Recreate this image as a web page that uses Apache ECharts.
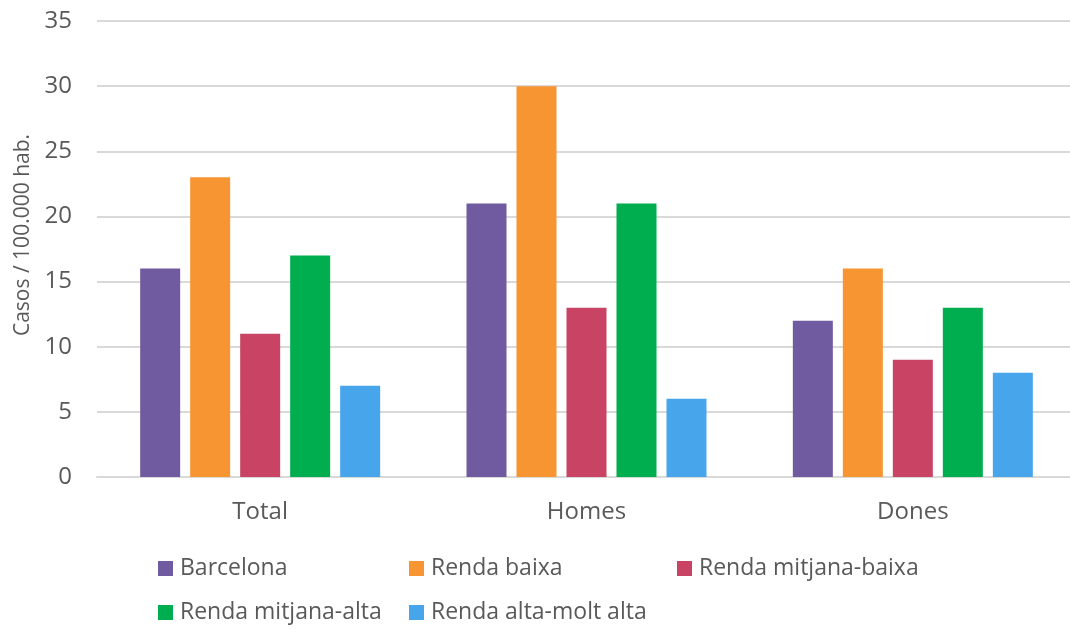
<!DOCTYPE html>
<html>
<head>
<meta charset="utf-8">
<script src="https://cdn.jsdelivr.net/npm/echarts@6/dist/echarts.min.js"></script>
<style>
  html, body { margin: 0; padding: 0; background: #fff; }
  #chart { width: 1070px; height: 629px; }
</style>
</head>
<body>
<div id="chart"></div>
<script>
// categories and values
const categories = ['Total', 'Homes', 'Dones']
const seriesNames = ['Barcelona', 'Renda baixa', 'Renda mitjana-baixa', 'Renda mitjana-alta', 'Renda alta-molt alta']
const barcelona = [16, 21, 12]
const rendaBaixa = [23, 30, 16]
const rendaMitjanaBaixa = [11, 13, 9]
const rendaMitjanaAlta = [17, 21, 13]
const rendaAltaMoltAlta = [7, 6, 8]
const colors = ['#715BA0', '#F69532', '#C84364', '#00AD4F', '#46A5EB']

const values = [barcelona, rendaBaixa, rendaMitjanaBaixa, rendaMitjanaAlta, rendaAltaMoltAlta]
const font = '"Open Sans", sans-serif'
const textColor = '#595959'

// legend items laid out in two rows, each one placed on its own
const legendPos = [[158, 557], [409, 557], [677, 557], [158, 601], [409, 601]]

const chart = echarts.init(document.getElementById('chart'))
chart.setOption({
  animation: false,
  color: colors,
  textStyle: { fontFamily: font },
  legend: seriesNames.map((name, i) => ({
    data: [name],
    left: legendPos[i][0],
    top: legendPos[i][1],
    icon: 'rect',
    itemWidth: 15,
    itemHeight: 15,
    itemGap: 0,
    padding: 0,
    textStyle: { color: textColor, fontSize: 23, fontFamily: font, padding: [0, 0, 0, 2] }
  })),
  grid: {
    left: 97,
    right: -6,
    top: 21,
    bottom: 152,
    outerBoundsMode: 'none'
  },
  xAxis: {
    type: 'category',
    data: categories,
    axisLine: { show: true, lineStyle: { color: '#d9d9d9', width: 2 } },
    axisTick: { show: false },
    axisLabel: { color: textColor, fontSize: 24, margin: 23, fontFamily: font }
  },
  yAxis: {
    type: 'value',
    min: 0,
    max: 35,
    interval: 5,
    name: 'Casos / 100.000 hab.',
    nameLocation: 'middle',
    nameGap: 63,
    nameTextStyle: { color: textColor, fontSize: 21, fontFamily: font, padding: [0, 0, 0, 28] },
    axisLine: { show: false },
    axisTick: { show: false },
    axisLabel: { color: textColor, fontSize: 24, margin: 25, fontFamily: font },
    splitLine: { lineStyle: { color: '#d9d9d9', width: 2 } }
  },
  series: seriesNames.map((name, i) => ({
    name: name,
    type: 'bar',
    data: values[i],
    barWidth: 40,
    barGap: '25%'
  }))
})
</script>
</body>
</html>
